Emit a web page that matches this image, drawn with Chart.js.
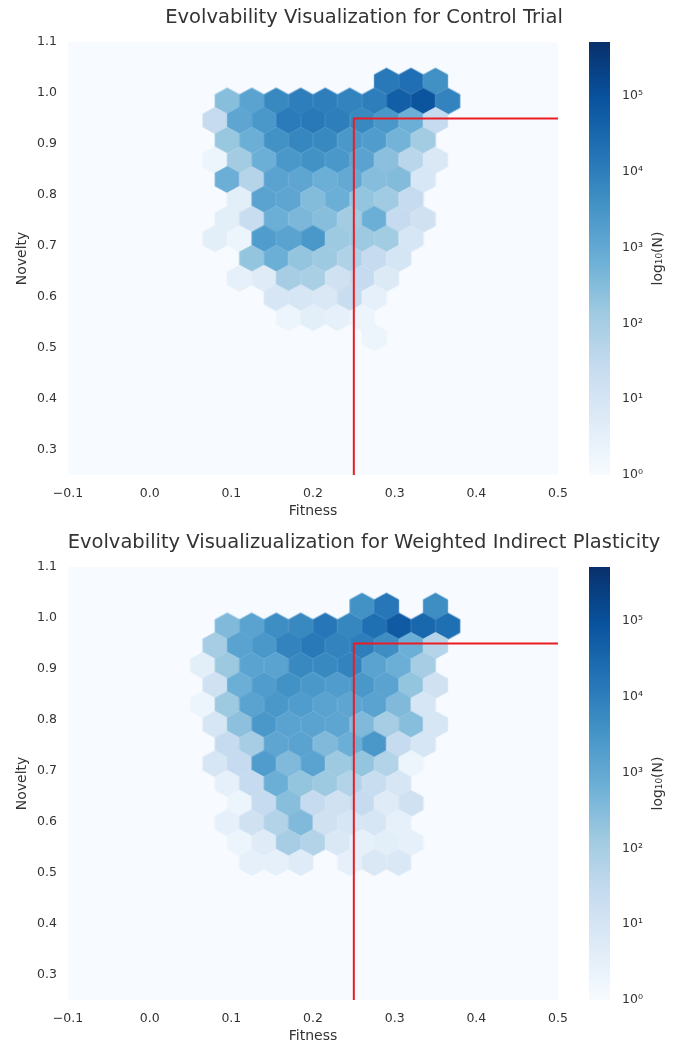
<!DOCTYPE html>
<html>
<head>
<meta charset="utf-8">
<script src="https://cdn.jsdelivr.net/npm/chart.js@4.4.0/dist/chart.umd.min.js"></script>
<style>
  html, body { margin: 0; padding: 0; background: #fff; overflow: hidden; }
  .panel { position: absolute; left: 0; width: 678px; height: 522px; }
  .panel canvas { position: absolute; top: 0; }
</style>
</head>
<body>
<div class="panel" style="top:0">
  <canvas id="controlHex" width="678" height="522" style="left:0"></canvas>
  <canvas id="controlBar" width="98" height="522" style="left:580px"></canvas>
</div>
<div class="panel" style="top:525px">
  <canvas id="weightedHex" width="678" height="522" style="left:0"></canvas>
  <canvas id="weightedBar" width="98" height="522" style="left:580px"></canvas>
</div>
<script>
const fitnessTicks = [-0.1, 0.0, 0.1, 0.2, 0.3, 0.4, 0.5];
const noveltyTicks = [0.3, 0.4, 0.5, 0.6, 0.7, 0.8, 0.9, 1.0, 1.1];
const countTicks = [1, 10, 100, 1000, 10000, 100000];
const countMax = 520000;

// hexbin grid: row centres (novelty) from top to bottom, bin spacing
const noveltyRows = [1.023, 0.984, 0.946, 0.907, 0.868, 0.830, 0.791, 0.752, 0.714, 0.675, 0.636, 0.598, 0.559, 0.520];
const binWidth = 0.03;
const binHeight = 0.0773;

// control trial: first fitness bin of each row + counts per bin
const controlStart = [0.29, 0.095, 0.08, 0.095, 0.08, 0.095, 0.11, 0.095, 0.08, 0.125, 0.11, 0.155, 0.17, 0.275];
const controlCounts = [
  [13000, 21000, 4000],
  [290, 1400, 5900, 10000, 10000, 7700, 10000, 49000, 83000, 7700],
  [27, 1200, 2700, 11500, 13000, 10000, 5900, 2700, 720, 27],
  [170, 720, 3700, 6800, 5900, 2700, 2100, 550, 115],
  [2, 115, 720, 2700, 3700, 2700, 1400, 260, 45, 7],
  [720, 52, 1400, 1200, 720, 950, 300, 330, 8],
  [4, 1400, 1200, 330, 720, 190, 130, 27],
  [4, 23, 720, 420, 290, 115, 720, 27, 14],
  [4, 2, 2100, 1400, 2700, 140, 140, 120, 9],
  [190, 720, 190, 140, 67, 27, 10],
  [3, 5, 100, 90, 14, 27, 6],
  [9, 9, 7, 23, 3],
  [2, 4, 3, 2],
  [2]
];

// weighted indirect plasticity
const weightedStart = [0.26, 0.095, 0.08, 0.065, 0.08, 0.065, 0.08, 0.095, 0.08, 0.095, 0.11, 0.095, 0.11, 0.125];
const weightedCounts = [
  [3700, 15000, 0, 4500],
  [370, 1400, 4500, 5900, 15000, 6800, 22000, 63000, 32000, 22000],
  [100, 1400, 2700, 7700, 13000, 7700, 10000, 4500, 720, 52],
  [4, 150, 1400, 1400, 5900, 5900, 7700, 1400, 720, 100],
  [14, 720, 2100, 3700, 2700, 2100, 2700, 1400, 190, 14],
  [2, 140, 1400, 2700, 2100, 1400, 1200, 1400, 370, 9],
  [9, 250, 2700, 1400, 1400, 1200, 370, 100, 290, 9],
  [27, 100, 1200, 1400, 370, 720, 2700, 27, 9],
  [9, 27, 2100, 370, 1400, 140, 190, 60, 2],
  [3, 27, 720, 190, 140, 60, 23, 9],
  [2, 27, 290, 27, 14, 27, 5, 14],
  [3, 14, 60, 370, 14, 9, 9, 3],
  [2, 5, 100, 60, 7, 3, 4, 3],
  [3, 3, 5, 0, 3, 7, 7]
];

// threshold corner (fitness 0.25, novelty 0.95)
const thresholdX = [0.25, 0.25, 0.5];
const thresholdY = [0.25, 0.95, 0.95];

const FONT = 'DejaVu Sans';
const TEXT = '#333';
const bluesStops = ['#f7fbff', '#deebf7', '#c6dbef', '#9ecae1', '#6baed6', '#4292c6', '#2171b5', '#08519c', '#08306b'];

function rgb(h) {
  return [1, 3, 5].map(i => parseInt(h.slice(i, i + 2), 16));
}

function blues(t) {
  t = Math.min(1, Math.max(0, t));
  const p = t * (bluesStops.length - 1);
  const i = Math.min(Math.floor(p), bluesStops.length - 2);
  const f = p - i;
  const a = rgb(bluesStops[i]), b = rgb(bluesStops[i + 1]);
  const c = a.map((v, k) => Math.round(v + (b[k] - v) * f));
  return 'rgb(' + c.join(',') + ')';
}

function countColor(n) {
  return blues(Math.log10(n) / Math.log10(countMax));
}

// hexagon sprite sized from the chart's own scales
const sprites = {};
function hexSprite(chart, color) {
  const sx = chart.scales.x, sy = chart.scales.y;
  const half = Math.abs(sx.getPixelForValue(binWidth / 2) - sx.getPixelForValue(0));
  const tip = Math.abs(sy.getPixelForValue(binHeight / 3) - sy.getPixelForValue(0));
  const key = color + '|' + half.toFixed(2) + '|' + tip.toFixed(2);
  if (sprites[key]) return sprites[key];
  const c = document.createElement('canvas');
  c.width = Math.ceil(half * 2) + 2;
  c.height = Math.ceil(tip * 2) + 2;
  const g = c.getContext('2d');
  const cx = c.width / 2, cy = c.height / 2;
  g.beginPath();
  g.moveTo(cx, cy - tip);
  g.lineTo(cx + half, cy - tip / 2);
  g.lineTo(cx + half, cy + tip / 2);
  g.lineTo(cx, cy + tip);
  g.lineTo(cx - half, cy + tip / 2);
  g.lineTo(cx - half, cy - tip / 2);
  g.closePath();
  g.fillStyle = color;
  g.fill();
  g.strokeStyle = color;
  g.lineWidth = 0.6;
  g.stroke();
  sprites[key] = c;
  return c;
}

function hexPoints(starts, counts) {
  const pts = [];
  counts.forEach((row, r) => row.forEach((n, k) => {
    if (n > 0) pts.push({ x: starts[r] + k * binWidth, y: noveltyRows[r], n: n });
  }));
  return pts;
}

function fmt(v) {
  return (v < 0 ? '\u2212' : '') + Math.abs(v).toFixed(1);
}

const plotBackground = {
  id: 'plotBackground',
  beforeDatasetsDraw(chart) {
    const a = chart.chartArea, ctx = chart.ctx;
    ctx.save();
    ctx.fillStyle = '#f7fbff';
    ctx.fillRect(a.left, a.top, a.right - a.left, a.bottom - a.top);
    ctx.restore();
  }
};

const panelTitle = {
  id: 'panelTitle',
  afterDraw(chart, args, opts) {
    const ctx = chart.ctx;
    ctx.save();
    ctx.font = opts.size + 'px "' + FONT + '"';
    ctx.fillStyle = TEXT;
    ctx.textAlign = 'center';
    ctx.textBaseline = 'middle';
    ctx.fillText(opts.text, opts.x, opts.y);
    ctx.restore();
  }
};

const barLabel = {
  id: 'barLabel',
  afterDraw(chart, args, opts) {
    const a = chart.chartArea, ctx = chart.ctx;
    ctx.save();
    ctx.translate(opts.x, (a.top + a.bottom) / 2);
    ctx.rotate(-Math.PI / 2);
    ctx.font = '14px "' + FONT + '"';
    ctx.fillStyle = TEXT;
    ctx.textAlign = 'center';
    ctx.textBaseline = 'middle';
    ctx.fillText(opts.text, 0, 0);
    ctx.restore();
  }
};

function makeHexChart(id, title, starts, counts) {
  const threshold = thresholdX.map((x, i) => ({ x: x, y: thresholdY[i] }));
  return new Chart(document.getElementById(id), {
    type: 'scatter',
    data: {
      datasets: [
        {
          data: threshold,
          showLine: true,
          borderColor: '#ec1c24',
          borderWidth: 2,
          pointRadius: 0,
          order: 0
        },
        {
          data: hexPoints(starts, counts),
          pointStyle: c => hexSprite(c.chart, countColor(c.raw.n)),
          pointRadius: 1,
          order: 1
        }
      ]
    },
    options: {
      responsive: false,
      animation: false,
      events: [],
      layout: { padding: { left: 0, right: 120, top: 42, bottom: 0 } },
      plugins: {
        legend: { display: false },
        tooltip: { enabled: false },
        panelTitle: { text: title, x: 364, y: 18, size: 19.5 }
      },
      scales: {
        x: {
          type: 'linear',
          min: -0.1,
          max: 0.5,
          afterBuildTicks: s => { s.ticks = fitnessTicks.map(v => ({ value: v })); },
          afterFit: s => { s.height = 47; },
          grid: { display: false, drawTicks: false },
          border: { display: false },
          ticks: { padding: 11, color: TEXT, font: { family: FONT, size: 12.5 }, callback: v => fmt(v) },
          title: { display: true, text: 'Fitness', color: TEXT, font: { family: FONT, size: 14 }, padding: { top: 0, bottom: 2.6 } }
        },
        y: {
          type: 'linear',
          min: 0.25,
          max: 1.1,
          afterBuildTicks: s => { s.ticks = noveltyTicks.map(v => ({ value: v })); },
          afterFit: s => { s.width = 68; },
          grid: { display: false, drawTicks: false },
          border: { display: false },
          ticks: { padding: 11, color: TEXT, font: { family: FONT, size: 12.5 }, callback: v => fmt(v) },
          title: { display: true, text: 'Novelty', color: TEXT, font: { family: FONT, size: 14 }, padding: { top: 13.6, bottom: 0 } }
        }
      }
    },
    plugins: [plotBackground, panelTitle]
  });
}

const sup = ['\u2070', '\u00b9', '\u00b2', '\u00b3', '\u2074', '\u2075', '\u2076'];

function makeColorbar(id) {
  return new Chart(document.getElementById(id), {
    type: 'bar',
    data: {
      labels: ['N'],
      datasets: [{
        data: [[1, countMax]],
        backgroundColor: c => {
          const a = c.chart.chartArea;
          if (!a) return bluesStops[4];
          const g = c.chart.ctx.createLinearGradient(0, a.bottom, 0, a.top);
          bluesStops.forEach((col, i) => g.addColorStop(i / (bluesStops.length - 1), col));
          return g;
        },
        borderWidth: 0,
        categoryPercentage: 1,
        barPercentage: 1
      }]
    },
    options: {
      responsive: false,
      animation: false,
      events: [],
      layout: { padding: { left: 9, right: 0, top: 42, bottom: 47 } },
      plugins: {
        legend: { display: false },
        tooltip: { enabled: false },
        barLabel: { text: 'log\u2081\u2080(N)', x: 78 }
      },
      scales: {
        x: { display: false },
        y: {
          type: 'logarithmic',
          position: 'right',
          min: 1,
          max: countMax,
          afterBuildTicks: s => { s.ticks = countTicks.map(v => ({ value: v })); },
          afterFit: s => { s.width = 68; },
          grid: { display: false, drawTicks: false },
          border: { display: false },
          ticks: {
            padding: 12,
            color: TEXT,
            font: { family: FONT, size: 12.5 },
            callback: v => '10' + sup[Math.round(Math.log10(v))]
          }
        }
      }
    },
    plugins: [barLabel]
  });
}

makeHexChart('controlHex', 'Evolvability Visualization for Control Trial', controlStart, controlCounts);
makeColorbar('controlBar');
makeHexChart('weightedHex', 'Evolvability Visualizualization for Weighted Indirect Plasticity', weightedStart, weightedCounts);
makeColorbar('weightedBar');
</script>
</body>
</html>
